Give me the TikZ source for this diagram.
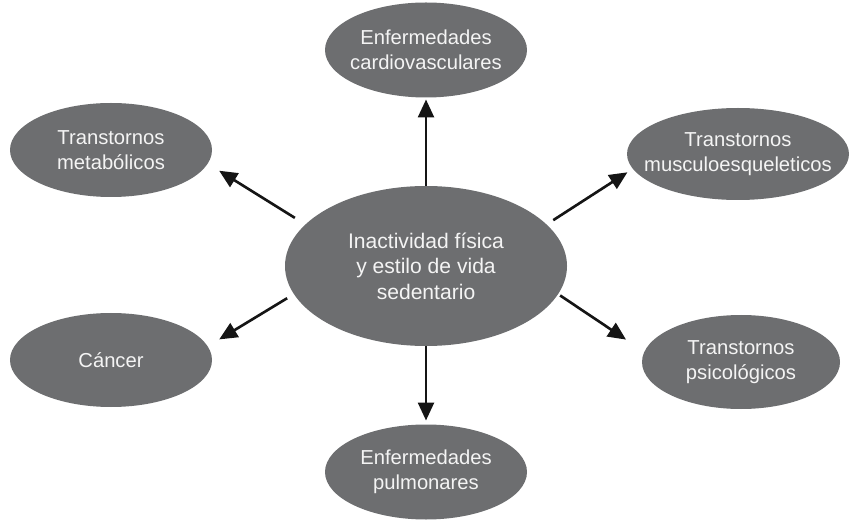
\documentclass[tikz,border=0pt]{standalone}
\usepackage{fontspec}
\setmainfont{Liberation Sans}
\definecolor{dgFill}{HTML}{6D6E70}
\definecolor{dgText}{HTML}{F4F4F4}
\definecolor{dgArrow}{HTML}{151515}
\usepackage{tikz}
\usetikzlibrary{calc,positioning,arrows.meta,shapes.geometric}

\begin{document}
\begin{tikzpicture}[
    burbuja/.style={ellipse, fill=dgFill, text=dgText, align=center,
      inner xsep=-12pt, inner ysep=0pt, outer sep=0pt,
      font=\fontsize{11.5}{14}\selectfont},
    flecha/.style={draw=dgArrow, line width=1.5pt,
      -{Triangle[length=0.36cm, width=0.32cm]}}
  ]
  \useasboundingbox (0,0) rectangle (17.04,10.42);
  \node[burbuja, minimum width=5.64cm, minimum height=3.2cm,
    font=\fontsize{12}{14.5}\selectfont] (centro) at (8.52,5.10)
    {Inactividad física\\y estilo de vida\\sedentario};
  \node[burbuja, minimum width=4.04cm, minimum height=1.9cm] (cardio) at (8.52,9.42)
    {Enfermedades\\cardiovasculares};
  \node[burbuja, minimum width=4.04cm, minimum height=1.9cm] (pulmon) at (8.52,0.98)
    {Enfermedades\\pulmonares};
  \node[burbuja, minimum width=4.04cm, minimum height=1.88cm] (metab) at (2.22,7.42)
    {Transtornos\\metabólicos};
  \node[burbuja, minimum width=4.04cm, minimum height=1.88cm] (cancer) at (2.22,3.22)
    {Cáncer};
  \node[burbuja, minimum width=4.44cm, minimum height=1.84cm] (musculo) at (14.76,7.34)
    {Transtornos\\musculoesqueleticos};
  \node[burbuja, minimum width=3.96cm, minimum height=1.88cm] (psico) at (14.82,3.18)
    {Transtornos\\psicológicos};

  \draw[flecha, shorten >=0.04cm] (centro.north) -- (cardio.south);
  \draw[flecha, shorten >=0.08cm] (centro.south) -- (pulmon.north);
  \draw[flecha, shorten <=0.25cm, shorten >=0.27cm] (centro.161.6) -- (metab.-8.9);
  \draw[flecha, shorten <=0.16cm, shorten >=0.13cm] (centro.19.7) -- (musculo.-172.2);
  \draw[flecha, shorten <=0.16cm, shorten >=0.27cm] (centro.-168.7) -- (cancer.8.1);
  \draw[flecha, shorten <=0.05cm, shorten >=0.44cm] (centro.-12.6) -- (psico.174);
\end{tikzpicture}
\end{document}
